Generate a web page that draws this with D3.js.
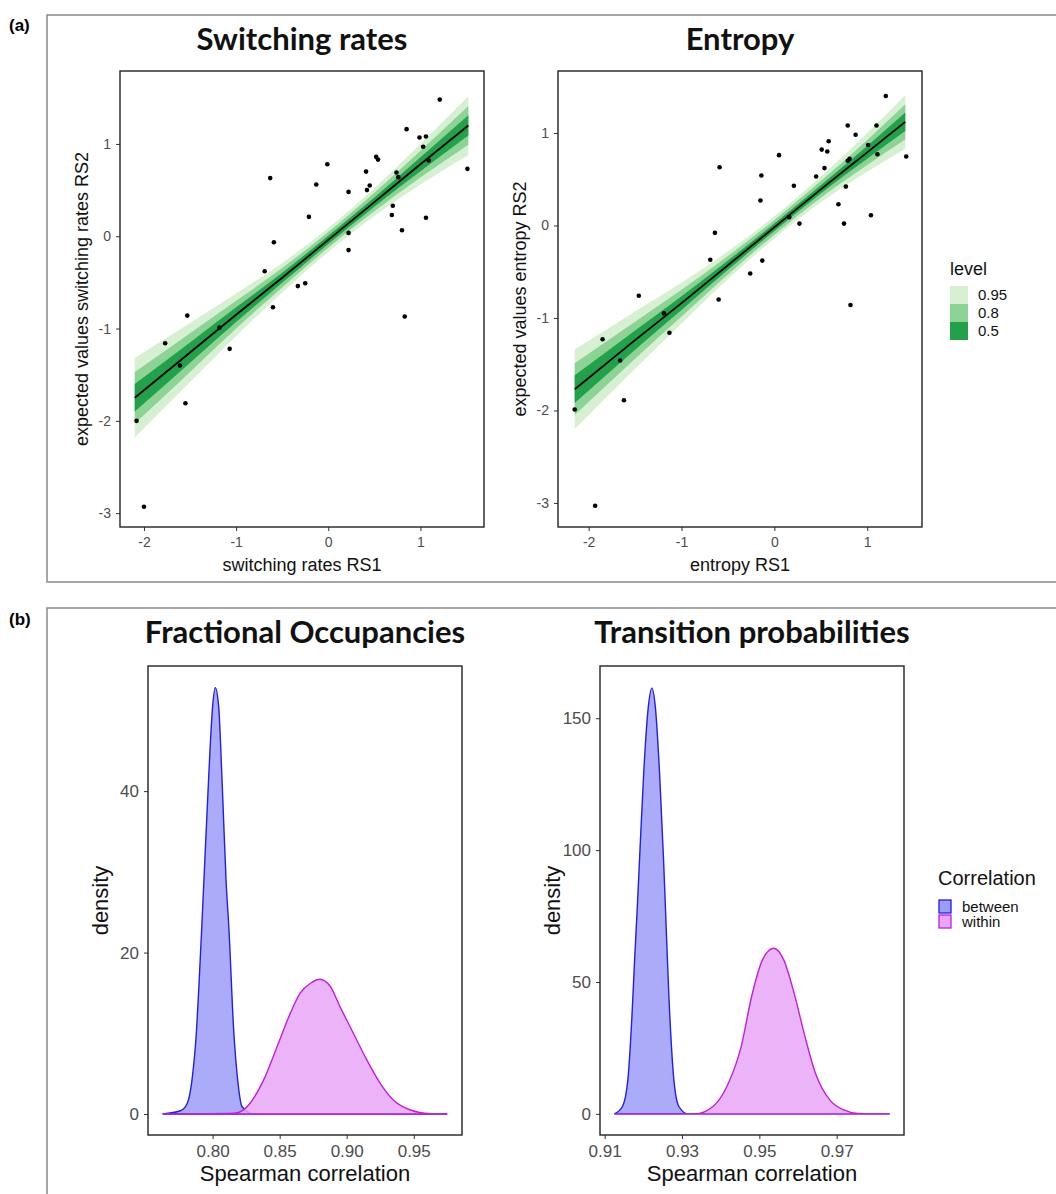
<!DOCTYPE html>
<html>
<head>
<meta charset="utf-8">
<script src="https://cdn.jsdelivr.net/npm/d3@7"></script>
<style>
  body { margin: 0; background: #fff; }
  svg { display: block; }
  .tick line { stroke: #333; }
  .title { font-family: Lato, "Open Sans", sans-serif; font-weight: bold; fill: #111; }
  .axis-title { font-family: "Liberation Sans", Arimo, Arial, sans-serif; fill: #111; }
</style>
</head>
<body>
<div id="chart"></div>
<script>
// ---- switching rates (RS1 vs expected RS2) ----
let swX = [1.21, 0.85, 0.99, 1.06, 1.03, 1.09, 1.51, 0.52, 0.54, -0.01, -0.63, -0.13, 0.41, 0.45, 0.42, 0.22, 0.74, 0.76, 0.70, 0.69,
    1.06, 0.80, -0.21, -0.59, 0.22, 0.22, -0.69, -0.33, -0.25, -0.60, 0.83, -1.53, -1.18, -1.07, -1.77, -1.61, -1.55, -2.08, -2.00];
let swY = [1.48, 1.16, 1.07, 1.08, 0.97, 0.82, 0.73, 0.86, 0.83, 0.78, 0.63, 0.56, 0.70, 0.55, 0.50, 0.48, 0.69, 0.64, 0.33, 0.23,
    0.20, 0.065, 0.21, -0.065, 0.036, -0.15, -0.38, -0.54, -0.51, -0.77, -0.87, -0.86, -0.99, -1.22, -1.16, -1.40, -1.81, -2.00, -2.93];

let swBandX = [-2.1, -1.5, -1.0, -0.5, 0.0, 0.5, 1.0, 1.52];
let swFit = [-1.75, -1.26, -0.85, -0.45, -0.04, 0.37, 0.78, 1.20];
let swHi95 = [-1.32, -0.94, -0.62, -0.29, 0.09, 0.52, 1.00, 1.52];
let swLo95 = [-2.18, -1.58, -1.08, -0.61, -0.17, 0.22, 0.56, 0.88];
let swHi80 = [-1.47, -1.05, -0.70, -0.345, 0.045, 0.47, 0.925, 1.41];
let swLo80 = [-2.03, -1.47, -1.00, -0.555, -0.125, 0.27, 0.635, 0.99];
let swHi50 = [-1.60, -1.15, -0.77, -0.395, 0.005, 0.42, 0.855, 1.31];
let swLo50 = [-1.90, -1.37, -0.93, -0.505, -0.085, 0.32, 0.705, 1.09];

// ---- entropy ----
let enX = [1.20, 0.79, 1.10, 0.875, 0.585, 0.51, 0.57, 1.01, 1.11, 1.42, 0.79, 0.81, 0.05, -0.59, -0.14, 0.54, 0.45, 0.21, 0.77, -0.15,
    0.69, 1.04, 0.16, 0.27, 0.75, -0.64, -0.69, -0.13, -0.26, -1.46, -0.60, 0.82, -1.19, -1.13, -1.85, -1.66, -1.62, -2.15, -1.93];
let enY = [1.40, 1.08, 1.08, 0.98, 0.91, 0.82, 0.80, 0.87, 0.77, 0.745, 0.70, 0.72, 0.76, 0.63, 0.54, 0.62, 0.53, 0.43, 0.42, 0.27,
    0.23, 0.11, 0.09, 0.02, 0.02, -0.08, -0.37, -0.38, -0.52, -0.76, -0.80, -0.86, -0.95, -1.16, -1.23, -1.46, -1.89, -1.99, -3.03];

let enBandX = [-2.15, -1.5, -1.0, -0.5, 0.0, 0.5, 1.0, 1.41];
let enFit = [-1.77, -1.24, -0.84, -0.43, -0.02, 0.39, 0.79, 1.12];
let enHi95 = [-1.34, -0.93, -0.62, -0.28, 0.10, 0.53, 1.00, 1.41];
let enLo95 = [-2.20, -1.55, -1.06, -0.58, -0.14, 0.25, 0.58, 0.83];
let enHi80 = [-1.49, -1.04, -0.695, -0.33, 0.06, 0.48, 0.925, 1.31];
let enLo80 = [-2.05, -1.44, -0.985, -0.53, -0.10, 0.30, 0.655, 0.93];
let enHi50 = [-1.62, -1.135, -0.765, -0.38, 0.02, 0.435, 0.86, 1.22];
let enLo50 = [-1.92, -1.345, -0.915, -0.48, -0.06, 0.345, 0.72, 1.02];

let levels = ["0.95", "0.8", "0.5"];
let scatterXTicks = [-2, -1, 0, 1];
let scatterYTicks = [-3, -2, -1, 0, 1];

// ---- fractional occupancies densities ----
let foBetweenX = [0.7627, 0.776, 0.781, 0.7846, 0.788, 0.790, 0.7918, 0.7938, 0.797, 0.800, 0.802, 0.8045, 0.807, 0.810, 0.8122, 0.8157, 0.8187, 0.822, 0.8306, 0.975];
let foBetweenD = [0, 0.4, 1.3, 4.2, 10.4, 16.6, 22.8, 30.0, 41.5, 50.5, 52.8, 50.5, 41.5, 29.0, 22.8, 10.4, 4.2, 0.9, 0, 0];
let foWithinX = [0.7627, 0.816, 0.8244, 0.838, 0.848, 0.858, 0.8654, 0.873, 0.880, 0.8878, 0.895, 0.905, 0.915, 0.925, 0.935, 0.9475, 0.9625, 0.975];
let foWithinD = [0, 0.1, 0.7, 4.2, 8.3, 12.5, 15.0, 16.2, 16.7, 15.8, 13.3, 10.0, 6.7, 3.8, 1.7, 0.5, 0.05, 0];
let foXTicks = [0.80, 0.85, 0.90, 0.95];
let foYTicks = [0, 20, 40];

// ---- transition probabilities densities ----
let tpBetweenX = [0.9125, 0.9146, 0.916, 0.9171, 0.9178, 0.9185, 0.9192, 0.9201, 0.9213, 0.9222, 0.9231, 0.9242, 0.9252, 0.9258, 0.9266, 0.9279, 0.9292, 0.9315, 0.9837];
let tpBetweenD = [0, 2.8, 12.9, 38.2, 60, 80, 102, 129.2, 154.4, 161.4, 154.4, 129.2, 97.5, 75, 45, 12.9, 2.8, 0, 0];
let tpWithinX = [0.9125, 0.9334, 0.938, 0.9416, 0.9453, 0.948, 0.9508, 0.9537, 0.9563, 0.959, 0.9618, 0.9645, 0.9682, 0.9718, 0.9755, 0.9837];
let tpWithinD = [0, 0, 2.8, 10.4, 25.5, 44.5, 58.4, 62.8, 58.4, 45.7, 29.3, 15.4, 5.3, 1.5, 0.2, 0];
let tpXTicks = [0.91, 0.93, 0.95, 0.97];
let tpYTicks = [0, 50, 100, 150];

let groups = ["between", "within"];

//colours
let greens = { "0.95": "#d6f0d1", "0.8": "#8dd396", "0.5": "#22a04a" };
let groupFill = { between: "#9c9cf9", within: "#e8a6f7" };
let groupLine = { between: "#2020e0", within: "#c020d8" };

let width = 1056;
let height = 1194;
let sansFont = '"Liberation Sans", Arimo, Arial, sans-serif';

let svg = d3.select("#chart").append("svg")
    .attr("width", width)
    .attr("height", height);

//outer frames
svg.append("rect")
    .attr("x", 47).attr("y", 15)
    .attr("width", 1100).attr("height", 567)
    .attr("fill", "none").attr("stroke", "#8a8a8a").attr("stroke-width", 1.5);

svg.append("rect")
    .attr("x", 47).attr("y", 608)
    .attr("width", 1100).attr("height", 700)
    .attr("fill", "none").attr("stroke", "#8a8a8a").attr("stroke-width", 1.5);

svg.append("text")
    .attr("x", 9).attr("y", 31)
    .style("font-family", sansFont).style("font-weight", "bold").style("font-size", "17px")
    .text("(a)");
svg.append("text")
    .attr("x", 9).attr("y", 625)
    .style("font-family", sansFont).style("font-weight", "bold").style("font-size", "17px")
    .text("(b)");


function zip(xs, ys) {
    return xs.map(function(x, i) { return [x, ys[i]]; });
}


//axes + black panel border, ggplot style
function panelFrame(g, box, x, y, xTicks, yTicks, fmt, tickSize) {
    let styleTicks = function(a) {
        a.select(".domain").remove();
        a.attr("font-family", null);
        a.selectAll("text")
            .style("font-family", sansFont)
            .style("font-size", tickSize)
            .style("fill", "#4d4d4d");
    };

    g.append("g")
        .attr("transform", `translate(0,${box.y1})`)
        .call(d3.axisBottom(x).tickValues(xTicks).tickFormat(fmt).tickSize(4).tickPadding(6))
        .call(styleTicks);

    g.append("g")
        .attr("transform", `translate(${box.x0},0)`)
        .call(d3.axisLeft(y).tickValues(yTicks).tickFormat(d => String(d)).tickSize(4).tickPadding(5))
        .call(styleTicks);

    g.append("rect")
        .attr("x", box.x0).attr("y", box.y0)
        .attr("width", box.x1 - box.x0).attr("height", box.y1 - box.y0)
        .attr("fill", "none").attr("stroke", "#222").attr("stroke-width", 1.4);
}


function scatterPanel(box, xDom, yDom, pts, bandX, fit, bands, title, xTitle, yTitle) {
    let g = svg.append("g");

    let x = d3.scaleLinear().domain(xDom).range([box.x0, box.x1]);
    let y = d3.scaleLinear().domain(yDom).range([box.y1, box.y0]);

    let area = d3.area()
        .x(d => x(d[0]))
        .y0(d => y(d[1]))
        .y1(d => y(d[2]))
        .curve(d3.curveMonotoneX);

    //ribbons, widest first
    bands.forEach(function(b) {
        let rows = bandX.map((v, i) => [v, b.lo[i], b.hi[i]]);
        g.append("path")
            .attr("d", area(rows))
            .attr("fill", greens[b.level]);
    });

    g.append("path")
        .attr("d", d3.line().x(d => x(d[0])).y(d => y(d[1])).curve(d3.curveMonotoneX)(zip(bandX, fit)))
        .attr("fill", "none")
        .attr("stroke", "#000")
        .attr("stroke-width", 1.8);

    g.selectAll("circle.pt")
        .data(pts)
        .enter()
        .append("circle")
        .attr("class", "pt")
        .attr("cx", d => x(d[0]))
        .attr("cy", d => y(d[1]))
        .attr("r", 2.3)
        .attr("fill", "#000");

    panelFrame(g, box, x, y, scatterXTicks, scatterYTicks, d => String(d), "14px");

    g.append("text").attr("class", "title")
        .attr("x", (box.x0 + box.x1) / 2).attr("y", 50)
        .attr("text-anchor", "middle")
        .style("font-size", "31px")
        .text(title);

    g.append("text").attr("class", "axis-title")
        .attr("x", (box.x0 + box.x1) / 2).attr("y", 571)
        .attr("text-anchor", "middle")
        .style("font-size", "18px")
        .text(xTitle);

    g.append("text").attr("class", "axis-title")
        .attr("transform", `translate(${box.x0 - 32},${(box.y0 + box.y1) / 2}) rotate(-90)`)
        .attr("text-anchor", "middle")
        .style("font-size", "18px")
        .text(yTitle);
}


function densityPanel(box, xDom, yDom, xTicks, yTicks, series, title) {
    let g = svg.append("g");

    let x = d3.scaleLinear().domain(xDom).range([box.x0, box.x1]);
    let y = d3.scaleLinear().domain(yDom).range([box.y1, box.y0]);

    let area = d3.area()
        .x(d => x(d[0]))
        .y0(y(0))
        .y1(d => y(d[1]))
        .curve(d3.curveMonotoneX);

    series.forEach(function(s) {
        g.append("path")
            .attr("d", area(zip(s.x, s.d)))
            .attr("fill", groupFill[s.group])
            .attr("fill-opacity", 0.85)
            .attr("stroke", groupLine[s.group])
            .attr("stroke-width", 1.4);
    });

    panelFrame(g, box, x, y, xTicks, yTicks, d3.format(".2f"), "17px");

    g.append("text").attr("class", "title")
        .attr("x", (box.x0 + box.x1) / 2).attr("y", 643)
        .attr("text-anchor", "middle")
        .style("font-size", "31px")
        .text(title);

    g.append("text").attr("class", "axis-title")
        .attr("x", (box.x0 + box.x1) / 2).attr("y", 1181)
        .attr("text-anchor", "middle")
        .style("font-size", "22px")
        .text("Spearman correlation");

    g.append("text").attr("class", "axis-title")
        .attr("transform", `translate(${box.x0 - 40},${(box.y0 + box.y1) / 2}) rotate(-90)`)
        .attr("text-anchor", "middle")
        .style("font-size", "22px")
        .text("density");
}


//top row
scatterPanel({ x0: 120, x1: 484, y0: 71, y1: 527 }, [-2.26, 1.69], [-3.15, 1.79],
    zip(swX, swY), swBandX, swFit,
    [{ level: "0.95", lo: swLo95, hi: swHi95 }, { level: "0.8", lo: swLo80, hi: swHi80 }, { level: "0.5", lo: swLo50, hi: swHi50 }],
    "Switching rates", "switching rates RS1", "expected values switching rates RS2");

scatterPanel({ x0: 558, x1: 922, y0: 71, y1: 527 }, [-2.33, 1.59], [-3.26, 1.67],
    zip(enX, enY), enBandX, enFit,
    [{ level: "0.95", lo: enLo95, hi: enHi95 }, { level: "0.8", lo: enLo80, hi: enHi80 }, { level: "0.5", lo: enLo50, hi: enHi50 }],
    "Entropy", "entropy RS1", "expected values entropy RS2");

//level legend
let lvl = svg.append("g").attr("transform", "translate(950,0)");
lvl.append("text").attr("class", "axis-title")
    .attr("x", 0).attr("y", 275).style("font-size", "18px").text("level");
lvl.selectAll("rect")
    .data(levels)
    .enter()
    .append("rect")
    .attr("x", 0)
    .attr("y", (d, i) => 286 + i * 18)
    .attr("width", 18).attr("height", 18)
    .attr("fill", d => greens[d]);
lvl.selectAll("text.lab")
    .data(levels)
    .enter()
    .append("text")
    .attr("class", "axis-title lab")
    .attr("x", 28)
    .attr("y", (d, i) => 300 + i * 18)
    .style("font-size", "15px")
    .text(d => d);

//bottom row
densityPanel({ x0: 148, x1: 462, y0: 666, y1: 1135 }, [0.7518, 0.986], [-2.6, 55.5],
    foXTicks, foYTicks,
    [{ group: "between", x: foBetweenX, d: foBetweenD }, { group: "within", x: foWithinX, d: foWithinD }],
    "Fractional Occupancies");

densityPanel({ x0: 600, x1: 904, y0: 666, y1: 1135 }, [0.9088, 0.9874], [-8, 169.8],
    tpXTicks, tpYTicks,
    [{ group: "between", x: tpBetweenX, d: tpBetweenD }, { group: "within", x: tpWithinX, d: tpWithinD }],
    "Transition probabilities");

//correlation legend
let cor = svg.append("g").attr("transform", "translate(938,0)");
cor.append("text").attr("class", "axis-title")
    .attr("x", 0).attr("y", 885).style("font-size", "20px").text("Correlation");
cor.selectAll("rect")
    .data(groups)
    .enter()
    .append("rect")
    .attr("x", 1)
    .attr("y", (d, i) => 900 + i * 15)
    .attr("width", 12).attr("height", 13)
    .attr("fill", d => groupFill[d])
    .attr("stroke", d => groupLine[d])
    .attr("stroke-width", 1.3);
cor.selectAll("text.lab")
    .data(groups)
    .enter()
    .append("text")
    .attr("class", "axis-title lab")
    .attr("x", 24)
    .attr("y", (d, i) => 912 + i * 15)
    .style("font-size", "15px")
    .text(d => d);
</script>
</body>
</html>
